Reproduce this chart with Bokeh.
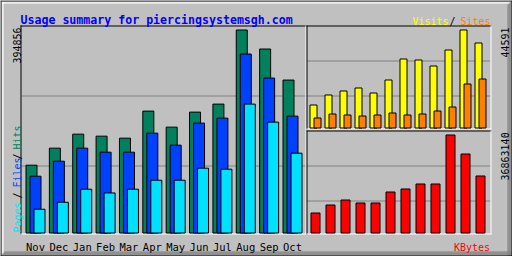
import math
from bokeh.plotting import figure
from bokeh.models import Range1d
from bokeh.core.properties import value
from bokeh.embed import file_html
from bokeh.resources import INLINE

# ---- data ----
title = "Usage summary for piercingsystemsgh.com"
months = ["Nov", "Dec", "Jan", "Feb", "Mar", "Apr", "May", "Jun", "Jul", "Aug", "Sep", "Oct"]
hits = [131880, 165000, 192270, 188370, 184480, 237070, 205900, 235120, 250710, 394856, 357850, 297460]
files = [110450, 139670, 165000, 157200, 157200, 194220, 170840, 213700, 223440, 348110, 301360, 227330]
pages = [46170, 59800, 85130, 77920, 85130, 102660, 102660, 126040, 124090, 250710, 215640, 155260]
visits = [10465, 15015, 16835, 18200, 15925, 21840, 31395, 30940, 28210, 35490, 44591, 38675]
sites = [4550, 6370, 5915, 5460, 5915, 6825, 5915, 6370, 7735, 9555, 20020, 22295]
kbytes = [7523000, 10532000, 12413000, 11285000, 11285000, 15422000, 16551000,
          18432000, 18432000, 36863140, 29716000, 21441000]

# ---- colours ----
BG = "#C0C0C0"
DKGREY = "#808080"
HITC = "#00805C"
FILEC = "#0040FF"
PAGEC = "#00E0FF"
VISITC = "#FFFF00"
SITEC = "#FF8000"
KBC = "#FF0000"
TITLEC = "#0000FF"

W, H = 512, 256
FONT = value("DejaVu Sans Mono")

p = figure(width=W, height=H, output_backend="svg", toolbar_location=None,
           x_range=Range1d(0, W), y_range=Range1d(H, 0),
           x_axis_location=None, y_axis_location=None, min_border=0,
           background_fill_color=BG, border_fill_color=BG, outline_line_color=None)
p.grid.visible = False


def mapped(v0, p0, v1, p1, size, down=False):
    """Range so that value v0 sits at pixel p0 and v1 at pixel p1."""
    if down:
        p0, p1 = size - p0, size - p1
    s = (p1 - p0) / (v1 - v0)
    start = v0 - p0 / s
    return Range1d(start, start + size / s)


n = len(months)
idx = list(range(n))
main_px = (292 - 35) / (n - 1)
side_px = (480 - 315) / (n - 1)

p.extra_x_ranges = {
    "mx": mapped(0, 35, n - 1, 292, W),
    "rx": mapped(0, 315, n - 1, 480, W),
}
p.extra_y_ranges = {
    "my": mapped(0, 232.5, max(hits), 29.5, H, True),
    "vy": mapped(0, 127.5, max(visits), 29.5, H, True),
    "ky": mapped(0, 232.5, max(kbytes), 134.5, H, True),
}

# ---- outer 3D border ----
def hline(y, x0, x1, color):
    p.segment(x0=[x0], y0=[y + 0.5], x1=[x1 + 1], y1=[y + 0.5], line_color=color, line_width=1)

def vline(x, y0, y1, color):
    p.segment(x0=[x + 0.5], y0=[y0], x1=[x + 0.5], y1=[y1 + 1], line_color=color, line_width=1)

for i in range(1, 3):
    hline(i, 0, W - 1 - i, "white")
    vline(i, 0, H - 1 - i, "white")
for i in range(1, 5):
    hline(H - 1 - i, i, W - 1, DKGREY)
    vline(W - 1 - i, i, H - 1, DKGREY)
hline(0, 0, W - 1, "black")
hline(H - 1, 0, W - 1, "black")
vline(0, 0, H - 1, "black")
vline(W - 1, 0, H - 1, "black")

# ---- grid lines ----
for gy in (95, 165):
    hline(gy, 21, 304, DKGREY)
for gy in (60, 95):
    hline(gy, 306, 489, DKGREY)
for gy in (165, 200):
    hline(gy, 306, 489, DKGREY)

# ---- panel borders ----
hline(25, 20, 305, "black"); vline(20, 25, 233, "black")
hline(233, 20, 305, "white"); vline(305, 25, 233, "white")
hline(25, 306, 490, "black"); vline(306, 25, 128, "black")
hline(128, 306, 490, "white"); vline(490, 25, 128, "white")
hline(130, 306, 490, "black"); vline(306, 130, 233, "black")
hline(233, 306, 490, "white"); vline(490, 130, 233, "white")

# ---- main chart bars ----
bw = 11 / main_px
p.vbar(x=[i - 4 / main_px for i in idx], top=hits, bottom=0, width=bw,
       fill_color=HITC, line_color="black", x_range_name="mx", y_range_name="my")
p.vbar(x=idx, top=files, bottom=0, width=bw,
       fill_color=FILEC, line_color="black", x_range_name="mx", y_range_name="my")
p.vbar(x=[i + 4 / main_px for i in idx], top=pages, bottom=0, width=bw,
       fill_color=PAGEC, line_color="black", x_range_name="mx", y_range_name="my")

# ---- visits / sites ----
p.vbar(x=[i - 2 / side_px for i in idx], top=visits, bottom=0, width=7 / side_px,
       fill_color=VISITC, line_color="black", x_range_name="rx", y_range_name="vy")
p.vbar(x=[i + 2 / side_px for i in idx], top=sites, bottom=0, width=7 / side_px,
       fill_color=SITEC, line_color="black", x_range_name="rx", y_range_name="vy")

# ---- kbytes ----
p.vbar(x=idx, top=kbytes, bottom=0, width=9 / side_px,
       fill_color=KBC, line_color="black", x_range_name="rx", y_range_name="ky")

# ---- month labels ----
p.text(x=idx, y=[246.5] * n, text=months, x_range_name="mx",
       text_font=FONT, text_font_size="10.5px", text_color="black",
       text_align="center", text_baseline="alphabetic")

# ---- title ----
p.text(x=[20], y=[19], text=[title], text_font=FONT, text_font_size="11.6px",
       text_font_style="bold", text_color=TITLEC, text_baseline="alphabetic")

# ---- legends ----
small = dict(text_font=FONT, text_font_size="10px", text_baseline="alphabetic")
p.text(x=[412], y=[20.5], text=["Visits"], text_color=VISITC, **small)
p.text(x=[449], y=[20.5], text=["/"], text_color="black", **small)
p.text(x=[460], y=[20.5], text=["Sites"], text_color=SITEC, **small)
p.text(x=[489.5], y=[247], text=["KBytes"], text_color=KBC, text_align="right", **small)

up = dict(angle=math.pi / 2, **small)
p.text(x=[16.5], y=[63], text=[str(max(hits))], text_color="black", **up)
p.text(x=[16.5], y=[232], text=["Pages"], text_color=PAGEC, **up)
p.text(x=[16.5], y=[198], text=["/"], text_color="black", **up)
p.text(x=[16.5], y=[187], text=["Files"], text_color=FILEC, **up)
p.text(x=[16.5], y=[159], text=["/"], text_color="black", **up)
p.text(x=[16.5], y=[149], text=["Hits"], text_color=HITC, **up)
p.text(x=[504.5], y=[57], text=[str(max(visits))], text_color="black", **up)
p.text(x=[504.5], y=[180], text=[str(max(kbytes))], text_color="black", **up)

open("out.html", "w").write(file_html(p, INLINE))
